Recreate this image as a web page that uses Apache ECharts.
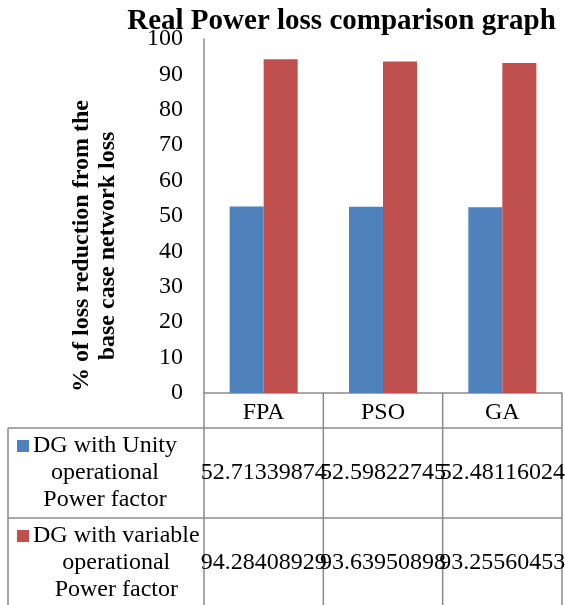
<!DOCTYPE html>
<html><head><meta charset="utf-8">
<script src="https://cdn.jsdelivr.net/npm/echarts@6/dist/echarts.min.js"></script>
<style>html,body{margin:0;padding:0;background:#fff}#c{width:565px;height:605px}</style>
</head><body><div id="c"></div>
<script>
const titleText = 'Real Power loss comparison graph';
const yAxisNameLines = ['% of loss reduction from the', 'base case network loss'];
const categories = ['FPA', 'PSO', 'GA'];
const seriesUnityName = ['DG with Unity', 'operational', 'Power factor'];
const seriesVariableName = ['DG with variable', 'operational', 'Power factor'];
const unityValues = [52.71339874, 52.59822745, 52.48116024];
const variableValues = [94.28408929, 93.63950898, 93.25560453];
const yTicks = [0, 10, 20, 30, 40, 50, 60, 70, 80, 90, 100];

const FONT = "Liberation Serif";
const BLUE = '#4F81BD', RED = '#C0504D', GRID = '#8a8a8a';

const chart = echarts.init(document.getElementById('c'), null, {renderer: 'canvas'});
chart.setOption({
  animation: false,
  grid: {left: 204, right: 3, top: 39, bottom: 212, containLabel: false},
  xAxis: {
    type: 'category', data: categories,
    axisLine: {show: true, lineStyle: {color: GRID, width: 1.5}},
    axisTick: {show: false},
    axisLabel: {fontFamily: FONT, fontSize: 24, color: '#000', margin: 8},
    splitLine: {show: false}
  },
  yAxis: {
    type: 'value', min: yTicks[0], max: yTicks[yTicks.length - 1], interval: yTicks[1] - yTicks[0],
    axisLine: {show: true, lineStyle: {color: GRID, width: 1.5}},
    axisTick: {show: false},
    splitLine: {show: false},
    axisLabel: {fontFamily: FONT, fontSize: 24, color: '#000', margin: 21}
  },
  series: [
    {type: 'bar', name: seriesUnityName.join(' '), data: unityValues, itemStyle: {color: BLUE}, barGap: '0%', barCategoryGap: '43%'},
    {type: 'bar', name: seriesVariableName.join(' '), data: variableValues, itemStyle: {color: RED}, barGap: '0%', barCategoryGap: '43%'}
  ]
});

const mctx = document.createElement('canvas').getContext('2d');
function measure(t, px) { mctx.font = px + "px 'Liberation Serif'"; return mctx.measureText(t).width; }
const txt = (o) => Object.assign({fontFamily: FONT, fill: '#000', align: 'center', verticalAlign: 'middle'}, o);

const g = [];
g.push({type: 'text', x: 341.5, y: 22, style: txt({text: titleText, fontSize: 29, fontWeight: 'bold'}), z: 100});
g.push({type: 'text', x: 95, y: 246, rotation: Math.PI / 2, style: txt({text: yAxisNameLines.join('\n'), fontSize: 24, fontWeight: 'bold', lineHeight: 26}), z: 100});

const y0 = chart.convertToPixel({yAxisIndex: 0}, 0);
const centers = categories.map(c => chart.convertToPixel({xAxisIndex: 0}, c));
const band = centers.length > 1 ? centers[1] - centers[0] : 119;
const xl = centers[0] - band / 2, xr = centers[centers.length - 1] + band / 2;
const tableLeft = 8, headerBottom = 428, row1Bottom = 518, row2Bottom = 608;
const line = (x1, y1, x2, y2) => g.push({type: 'line', shape: {x1, y1, x2, y2}, style: {stroke: GRID, lineWidth: 1.5}, z: 50});
for (let i = 0; i <= centers.length; i++) { const x = xl + band * i; line(x, y0, x, row2Bottom); }
line(tableLeft, headerBottom, tableLeft, row2Bottom);
line(tableLeft, headerBottom, xr, headerBottom);
line(tableLeft, row1Bottom, xr, row1Bottom);

const rows = [
  {name: seriesUnityName, color: BLUE, values: unityValues, top: headerBottom, bottom: row1Bottom},
  {name: seriesVariableName, color: RED, values: variableValues, top: row1Bottom, bottom: row2Bottom}
];
const lh = 27;
rows.forEach(r => {
  const cy = (r.top + r.bottom) / 2;
  const maxW = Math.max(...r.name.map(t => measure(t, 24)));
  const textX0 = 33;
  const firstY = cy - lh * (r.name.length - 1) / 2;
  g.push({type: 'rect', shape: {x: 17, y: firstY - 6, width: 12, height: 12}, style: {fill: r.color}, z: 60});
  r.name.forEach((t, i) => {
    g.push({type: 'text', x: textX0 + maxW / 2, y: firstY + i * lh, style: txt({text: t, fontSize: 24}), z: 60});
  });
  r.values.forEach((v, i) => {
    g.push({type: 'text', x: centers[i], y: cy, style: txt({text: String(v), fontSize: 24}), z: 60});
  });
});
chart.setOption({graphic: {elements: g}});
</script></body></html>
